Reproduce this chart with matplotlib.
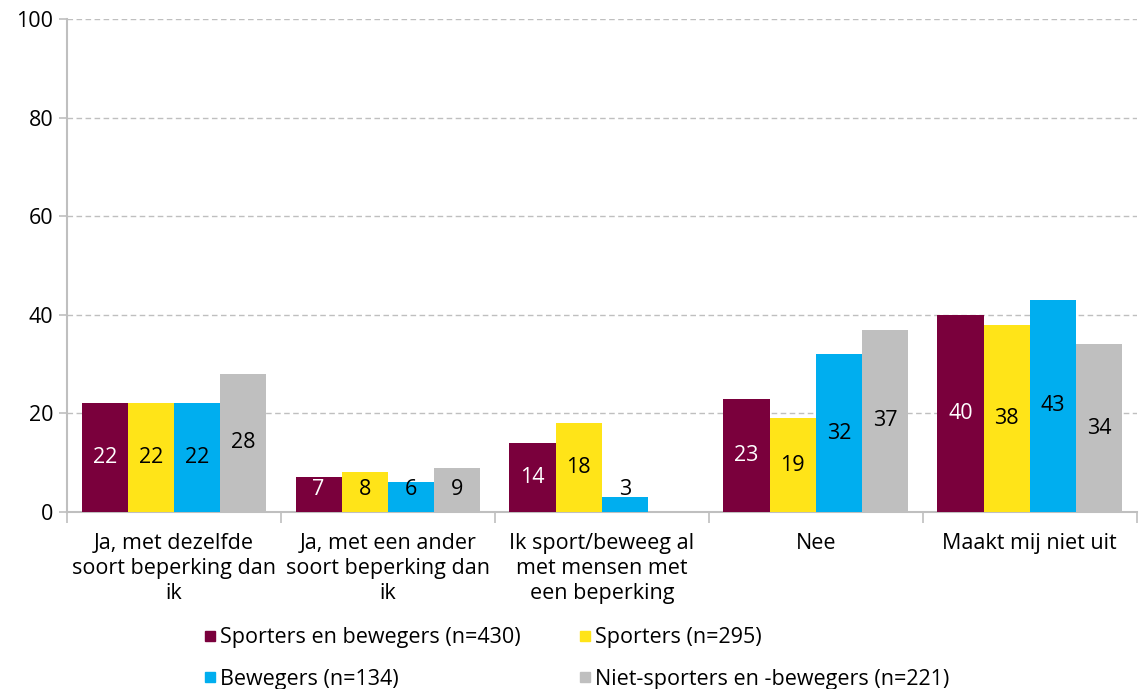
import numpy as np
import matplotlib
matplotlib.use("Agg")
import matplotlib.pyplot as plt
from matplotlib.lines import Line2D

plt.rcParams['font.family'] = ['Open Sans', 'DejaVu Sans']

categories = [
    "Ja, met dezelfde\nsoort beperking dan\nik",
    "Ja, met een ander\nsoort beperking dan\nik",
    "Ik sport/beweeg al\nmet mensen met\neen beperking",
    "Nee",
    "Maakt mij niet uit",
]
series_names = [
    "Sporters en bewegers (n=430)",
    "Sporters (n=295)",
    "Bewegers (n=134)",
    "Niet-sporters en -bewegers (n=221)",
]
sporters_en_bewegers = [22, 7, 14, 23, 40]
sporters = [22, 8, 18, 19, 38]
bewegers = [22, 6, 3, 32, 43]
niet_sporters = [28, 9, None, 37, 34]

series_values = [sporters_en_bewegers, sporters, bewegers, niet_sporters]
colors = ["#7A003C", "#FFE418", "#00AEEF", "#BFBFBF"]
label_colors = ["white", "black", "black", "black"]
yticks = [0, 20, 40, 60, 80, 100]

FS = 15.5

fig = plt.figure(figsize=(11.44, 6.89), dpi=100)
ax = fig.add_axes([0.0586, 0.257, 0.935, 0.7155])

n_series = len(series_values)
bar_w = 0.216
x = np.arange(len(categories))
for i, (vals, col, lc) in enumerate(zip(series_values, colors, label_colors)):
    offs = (i - (n_series - 1) / 2) * bar_w
    for j, v in enumerate(vals):
        if v is None:
            continue
        ax.bar(x[j] + offs, v, width=bar_w, color=col, zorder=3)
        ax.text(x[j] + offs, max(v / 2, 4.5), str(v), ha="center", va="center",
                color=lc, fontsize=FS, zorder=4)

ax.set_xlim(-0.5, len(categories) - 0.5)
ax.set_ylim(0, 100)
ax.set_yticks(yticks)
ax.set_yticklabels([str(t) for t in yticks], fontsize=FS)
ax.yaxis.grid(True, color="#BFBFBF", linestyle=(0, (4, 2.5)), linewidth=1.0, zorder=0)
ax.tick_params(axis="y", length=6, color="#BFBFBF", width=1.2, pad=4)

# category labels centred under groups, tick marks at group boundaries
ax.set_xticks(np.arange(-0.5, len(categories)), minor=False)
ax.set_xticklabels([])
ax.tick_params(axis="x", length=8, color="#BFBFBF", width=1.2)
ax.set_xticks(x, minor=True)
ax.set_xticklabels(categories, minor=True, fontsize=FS, linespacing=1.26)
ax.tick_params(axis="x", which="minor", length=0, pad=15)

for s in ["top", "right"]:
    ax.spines[s].set_visible(False)
for s in ["left", "bottom"]:
    ax.spines[s].set_color("#BFBFBF")
    ax.spines[s].set_linewidth(1.5)

# legend filled row by row: two entries per row
order = [0, 2, 1, 3]
handles = [Line2D([0], [0], marker="s", linestyle="none", markersize=7.5,
                  markerfacecolor=colors[k], markeredgecolor=colors[k]) for k in order]
labels = [series_names[k] for k in order]
fig.legend(handles, labels, loc="lower left", bbox_to_anchor=(0.162, -0.029),
           ncol=2, frameon=False, fontsize=FS, handlelength=0.5, handletextpad=0.2,
           columnspacing=2.75, labelspacing=0.95)

fig.savefig("out.png", dpi=100)
